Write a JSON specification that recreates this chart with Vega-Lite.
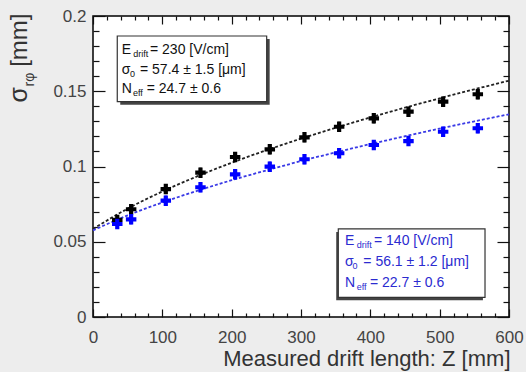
{
  "$schema": "https://vega.github.io/schema/vega-lite/v6.json",
  "width": 416,
  "height": 301,
  "autosize": {"type": "none"},
  "padding": {"left": 93, "top": 16, "right": 17, "bottom": 55},
  "background": "#ededed",
  "config": {
    "view": {"fill": "white", "stroke": "#000000", "strokeWidth": 1.5},
    "axis": {
      "domain": false, "grid": false,
      "labelFont": "Liberation Sans", "labelFontSize": 17, "labelColor": "#444444",
      "labelFlush": false, "labelOverlap": false,
      "tickColor": "#111111", "tickWidth": 1.2,
      "titleFont": "Liberation Sans", "titleFontWeight": "normal", "titleColor": "#333333"
    }
  },
  "datasets": {
    "points": [
      {"z": 35, "s": 0.0645, "lo": 0.0612, "hi": 0.0678, "set": "230"},
      {"z": 55, "s": 0.0716, "lo": 0.0683, "hi": 0.0749, "set": "230"},
      {"z": 105, "s": 0.0850, "lo": 0.0817, "hi": 0.0883, "set": "230"},
      {"z": 155, "s": 0.0959, "lo": 0.0926, "hi": 0.0992, "set": "230"},
      {"z": 205, "s": 0.1063, "lo": 0.1030, "hi": 0.1096, "set": "230"},
      {"z": 255, "s": 0.1114, "lo": 0.1081, "hi": 0.1147, "set": "230"},
      {"z": 305, "s": 0.1194, "lo": 0.1161, "hi": 0.1227, "set": "230"},
      {"z": 355, "s": 0.1264, "lo": 0.1231, "hi": 0.1297, "set": "230"},
      {"z": 405, "s": 0.1320, "lo": 0.1287, "hi": 0.1353, "set": "230"},
      {"z": 455, "s": 0.1364, "lo": 0.1331, "hi": 0.1397, "set": "230"},
      {"z": 505, "s": 0.1431, "lo": 0.1398, "hi": 0.1464, "set": "230"},
      {"z": 555, "s": 0.1480, "lo": 0.1447, "hi": 0.1513, "set": "230"},
      {"z": 35, "s": 0.0618, "lo": 0.0585, "hi": 0.0651, "set": "140"},
      {"z": 55, "s": 0.0649, "lo": 0.0616, "hi": 0.0682, "set": "140"},
      {"z": 105, "s": 0.0773, "lo": 0.0740, "hi": 0.0806, "set": "140"},
      {"z": 155, "s": 0.0862, "lo": 0.0829, "hi": 0.0895, "set": "140"},
      {"z": 205, "s": 0.0948, "lo": 0.0915, "hi": 0.0981, "set": "140"},
      {"z": 255, "s": 0.0999, "lo": 0.0966, "hi": 0.1032, "set": "140"},
      {"z": 305, "s": 0.1048, "lo": 0.1015, "hi": 0.1081, "set": "140"},
      {"z": 355, "s": 0.1088, "lo": 0.1055, "hi": 0.1121, "set": "140"},
      {"z": 405, "s": 0.1143, "lo": 0.1110, "hi": 0.1176, "set": "140"},
      {"z": 455, "s": 0.1169, "lo": 0.1136, "hi": 0.1202, "set": "140"},
      {"z": 505, "s": 0.1231, "lo": 0.1198, "hi": 0.1264, "set": "140"},
      {"z": 555, "s": 0.1254, "lo": 0.1221, "hi": 0.1287, "set": "140"}
    ],
    "fits": [
      {"z": 0, "s": 0.0585, "set": "230"}, {"z": 50, "s": 0.0720, "set": "230"},
      {"z": 100, "s": 0.0834, "set": "230"}, {"z": 150, "s": 0.0934, "set": "230"},
      {"z": 200, "s": 0.1025, "set": "230"}, {"z": 250, "s": 0.1108, "set": "230"},
      {"z": 300, "s": 0.1185, "set": "230"}, {"z": 350, "s": 0.1257, "set": "230"},
      {"z": 400, "s": 0.1326, "set": "230"}, {"z": 450, "s": 0.1391, "set": "230"},
      {"z": 500, "s": 0.1453, "set": "230"}, {"z": 550, "s": 0.1513, "set": "230"},
      {"z": 600, "s": 0.1570, "set": "230"},
      {"z": 0, "s": 0.0576, "set": "140"}, {"z": 50, "s": 0.0675, "set": "140"},
      {"z": 100, "s": 0.0761, "set": "140"}, {"z": 150, "s": 0.0838, "set": "140"},
      {"z": 200, "s": 0.0909, "set": "140"}, {"z": 250, "s": 0.0974, "set": "140"},
      {"z": 300, "s": 0.1036, "set": "140"}, {"z": 350, "s": 0.1094, "set": "140"},
      {"z": 400, "s": 0.1149, "set": "140"}, {"z": 450, "s": 0.1201, "set": "140"},
      {"z": 500, "s": 0.1252, "set": "140"}, {"z": 550, "s": 0.1300, "set": "140"},
      {"z": 600, "s": 0.1347, "set": "140"}
    ],
    "shadows": [
      {"x": 39.3, "x2": 254.8, "y": 0.1847, "y2": 0.1411},
      {"x": 350.8, "x2": 562.4, "y": 0.0565, "y2": 0.0111}
    ],
    "boxes": [
      {"x": 35.0, "x2": 250.5, "y": 0.1867, "y2": 0.1431},
      {"x": 353.8, "x2": 565.4, "y": 0.0585, "y2": 0.0131}
    ],
    "texts": [
      {"x": 41.4, "y": 0.1774, "t": "E", "set": "230"},
      {"x": 82.2, "y": 0.1774, "t": "= 230 [V/cm]", "set": "230"},
      {"x": 41.4, "y": 0.1641, "t": "σ", "set": "230"},
      {"x": 67.8, "y": 0.1641, "t": "= 57.4 ± 1.5 [μm]", "set": "230"},
      {"x": 41.4, "y": 0.1515, "t": "N", "set": "230"},
      {"x": 77.5, "y": 0.1515, "t": "= 24.7 ± 0.6", "set": "230"},
      {"x": 363.5, "y": 0.0507, "t": "E", "set": "140"},
      {"x": 405.3, "y": 0.0507, "t": "= 140 [V/cm]", "set": "140"},
      {"x": 363.5, "y": 0.0367, "t": "σ", "set": "140"},
      {"x": 389.9, "y": 0.0367, "t": "= 56.1 ± 1.2 [μm]", "set": "140"},
      {"x": 363.5, "y": 0.0228, "t": "N", "set": "140"},
      {"x": 399.5, "y": 0.0228, "t": "= 22.7 ± 0.6", "set": "140"}
    ],
    "subs": [
      {"x": 58.1, "y": 0.1774, "t": "drift", "set": "230"},
      {"x": 53.4, "y": 0.1641, "t": "0", "set": "230"},
      {"x": 57.7, "y": 0.1515, "t": "eff", "set": "230"},
      {"x": 380.4, "y": 0.0507, "t": "drift", "set": "140"},
      {"x": 374.3, "y": 0.0367, "t": "0", "set": "140"},
      {"x": 380.4, "y": 0.0228, "t": "eff", "set": "140"}
    ]
  },
  "layer": [
    {
      "data": {"name": "fits"},
      "mark": {"type": "line", "interpolate": "monotone", "strokeDash": [3, 2], "strokeWidth": 1.8},
      "encoding": {
        "x": {"field": "z", "type": "quantitative", "scale": {"domain": [0, 600], "nice": false, "zero": false},
          "axis": {"orient": "bottom", "values": [0, 100, 200, 300, 400, 500, 600], "ticks": false, "labelPadding": 12,
            "title": "Measured drift length: Z [mm]", "titleFontSize": 22, "titleX": 417, "titleY": 48, "titleAlign": "right", "titleBaseline": "alphabetic"}},
        "y": {"field": "s", "type": "quantitative", "scale": {"domain": [0, 0.2], "nice": false},
          "axis": {"orient": "left", "values": [0, 0.05, 0.1, 0.15, 0.2], "ticks": false, "labelPadding": 7, "format": ".2~f",
            "title": "[mm]", "titleFontSize": 24, "titleX": -67, "titleY": -3, "titleAlign": "right", "titleBaseline": "alphabetic", "titleAngle": -90}},
        "color": {"field": "set", "type": "nominal", "scale": {"domain": ["230", "140"], "range": ["#222222", "#3a3ae6"]}, "legend": null},
        "detail": {"field": "set"}
      }
    },
    {
      "data": {"name": "points"},
      "mark": {"type": "rule", "strokeWidth": 2.5},
      "encoding": {
        "x": {"field": "z", "type": "quantitative", "scale": {"domain": [0, 600], "nice": false, "zero": false},
          "axis": {"orient": "bottom", "values": [0, 100, 200, 300, 400, 500, 600], "labels": false, "tickSize": -8, "title": null}},
        "y": {"field": "lo", "type": "quantitative", "scale": {"domain": [0, 0.2], "nice": false},
          "axis": {"orient": "left", "values": [0, 0.05, 0.1, 0.15, 0.2], "labels": false, "tickSize": -12,
            "title": "σ", "titleFontSize": 25, "titleX": -67, "titleY": 86, "titleAlign": "left", "titleBaseline": "alphabetic", "titleAngle": -90}},
        "y2": {"field": "hi"},
        "color": {"field": "set", "type": "nominal", "scale": {"domain": ["230", "140"], "range": ["#000000", "#0000ff"]}, "legend": null}
      }
    },
    {
      "data": {"name": "points"},
      "mark": {"type": "point", "shape": "cross", "filled": true, "size": 110, "opacity": 1},
      "encoding": {
        "x": {"field": "z", "type": "quantitative", "scale": {"domain": [0, 600], "nice": false, "zero": false},
          "axis": {"orient": "bottom", "values": [20, 40, 60, 80, 120, 140, 160, 180, 220, 240, 260, 280, 320, 340, 360, 380, 420, 440, 460, 480, 520, 540, 560, 580], "labels": false, "tickSize": -4, "title": null}},
        "y": {"field": "s", "type": "quantitative", "scale": {"domain": [0, 0.2], "nice": false},
          "axis": {"orient": "left", "values": [0.01, 0.02, 0.03, 0.04, 0.06, 0.07, 0.08, 0.09, 0.11, 0.12, 0.13, 0.14, 0.16, 0.17, 0.18, 0.19], "labels": false, "tickSize": -6,
            "title": "rφ", "titleFontSize": 14, "titleX": -60, "titleY": 70, "titleAlign": "left", "titleBaseline": "alphabetic", "titleAngle": -90}},
        "color": {"field": "set", "type": "nominal", "scale": {"domain": ["230", "140"], "range": ["#000000", "#0000ff"]}, "legend": null}
      }
    },
    {
      "data": {"name": "shadows"},
      "mark": {"type": "rect", "fill": "#444444"},
      "encoding": {
        "x": {"field": "x", "type": "quantitative", "scale": {"domain": [0, 600], "nice": false, "zero": false},
          "axis": {"orient": "top", "values": [0, 100, 200, 300, 400, 500, 600], "labels": false, "tickSize": -8, "title": null}},
        "x2": {"field": "x2"},
        "y": {"field": "y", "type": "quantitative", "scale": {"domain": [0, 0.2], "nice": false},
          "axis": {"orient": "right", "values": [0, 0.05, 0.1, 0.15, 0.2], "labels": false, "tickSize": -12, "title": null}},
        "y2": {"field": "y2"}
      }
    },
    {
      "data": {"name": "boxes"},
      "mark": {"type": "rect", "fill": "#ffffff", "stroke": "#333333", "strokeWidth": 1.2},
      "encoding": {
        "x": {"field": "x", "type": "quantitative", "scale": {"domain": [0, 600], "nice": false, "zero": false},
          "axis": {"orient": "top", "values": [20, 40, 60, 80, 120, 140, 160, 180, 220, 240, 260, 280, 320, 340, 360, 380, 420, 440, 460, 480, 520, 540, 560, 580], "labels": false, "tickSize": -4, "title": null}},
        "x2": {"field": "x2"},
        "y": {"field": "y", "type": "quantitative", "scale": {"domain": [0, 0.2], "nice": false},
          "axis": {"orient": "right", "values": [0.01, 0.02, 0.03, 0.04, 0.06, 0.07, 0.08, 0.09, 0.11, 0.12, 0.13, 0.14, 0.16, 0.17, 0.18, 0.19], "labels": false, "tickSize": -6, "title": null}},
        "y2": {"field": "y2"}
      }
    },
    {
      "data": {"name": "texts"},
      "mark": {"type": "text", "align": "left", "baseline": "middle", "font": "Liberation Sans", "fontSize": 14},
      "encoding": {
        "x": {"field": "x", "type": "quantitative", "scale": {"domain": [0, 600], "nice": false, "zero": false}, "axis": null},
        "y": {"field": "y", "type": "quantitative", "scale": {"domain": [0, 0.2], "nice": false}, "axis": null},
        "text": {"field": "t"},
        "color": {"field": "set", "type": "nominal", "scale": {"domain": ["230", "140"], "range": ["#111111", "#2b2bd0"]}, "legend": null}
      }
    },
    {
      "data": {"name": "subs"},
      "mark": {"type": "text", "align": "left", "baseline": "middle", "font": "Liberation Sans", "fontSize": 9, "dy": 4},
      "encoding": {
        "x": {"field": "x", "type": "quantitative", "scale": {"domain": [0, 600], "nice": false, "zero": false}, "axis": null},
        "y": {"field": "y", "type": "quantitative", "scale": {"domain": [0, 0.2], "nice": false}, "axis": null},
        "text": {"field": "t"},
        "color": {"field": "set", "type": "nominal", "scale": {"domain": ["230", "140"], "range": ["#111111", "#2b2bd0"]}, "legend": null}
      }
    }
  ],
  "resolve": {"axis": {"x": "independent", "y": "independent"}, "scale": {"color": "independent"}}
}
